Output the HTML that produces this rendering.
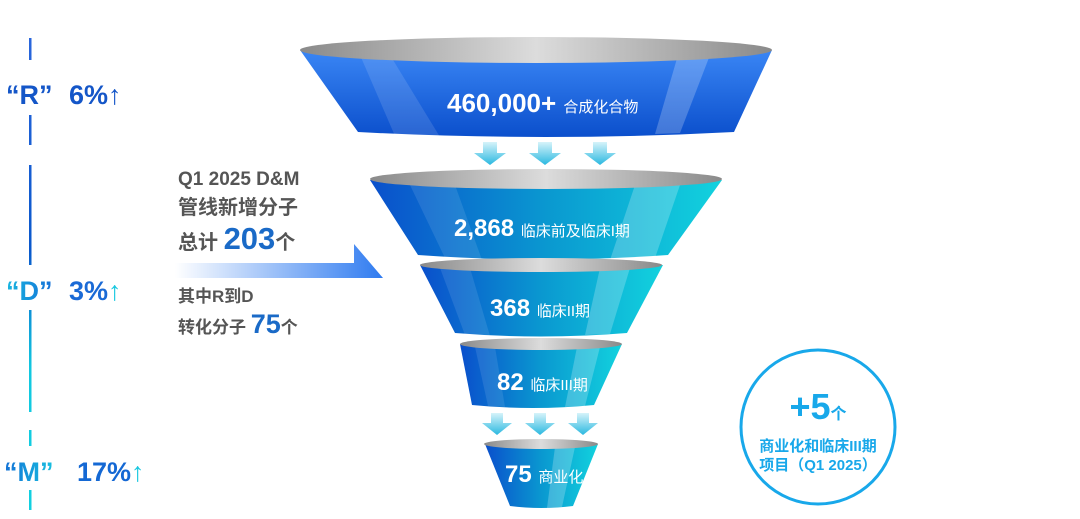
<!DOCTYPE html>
<html><head><meta charset="utf-8"><style>
html,body{margin:0;padding:0;background:#fff;}
svg{display:block}
text{font-family:"Liberation Sans","Noto Sans CJK SC",sans-serif;font-weight:bold}
</style></head><body>
<svg width="1080" height="519" viewBox="0 0 1080 519" xmlns="http://www.w3.org/2000/svg">
<defs>
<linearGradient id="rim" x1="0" x2="1"><stop offset="0" stop-color="#8a8a8a"/><stop offset="0.5" stop-color="#dcdcdc"/><stop offset="1" stop-color="#8a8a8a"/></linearGradient>
<linearGradient id="b1" x1="0" y1="0" x2="0" y2="1"><stop offset="0" stop-color="#3a86f5"/><stop offset="1" stop-color="#0b4fcc"/></linearGradient>
<linearGradient id="b2" x1="0" x2="1"><stop offset="0" stop-color="#0a4fcc"/><stop offset="0.5" stop-color="#0a98d0"/><stop offset="1" stop-color="#12d2de"/></linearGradient>
<linearGradient id="arr" x1="0" y1="0" x2="0" y2="1"><stop offset="0" stop-color="#d6f3fa"/><stop offset="1" stop-color="#2ab8e0"/></linearGradient>
<linearGradient id="bar" x1="0" x2="1"><stop offset="0" stop-color="#ffffff"/><stop offset="1" stop-color="#2f7bf0"/></linearGradient>
<linearGradient id="vl" gradientUnits="userSpaceOnUse" x1="0" y1="38" x2="0" y2="510"><stop offset="0" stop-color="#2a66dc"/><stop offset="0.45" stop-color="#0a58cc"/><stop offset="0.7" stop-color="#12c8e0"/><stop offset="1" stop-color="#12d0e0"/></linearGradient>
<linearGradient id="tD" x1="0" x2="1"><stop offset="0" stop-color="#18b7e0"/><stop offset="1" stop-color="#1570d8"/></linearGradient>
<linearGradient id="tM" x1="0" x2="1"><stop offset="0" stop-color="#1370d6"/><stop offset="1" stop-color="#18c0e0"/></linearGradient>
</defs>

<g fill="url(#vl)">
<rect x="29" y="38" width="2.5" height="22"/>
<rect x="29" y="115" width="2.5" height="30"/>
<rect x="29" y="165" width="2.5" height="100"/>
<rect x="29" y="310" width="2.5" height="102"/>
<rect x="29" y="430" width="2.5" height="16"/>
<rect x="29" y="490" width="2.5" height="20"/>
</g>
<text x="6" y="104" font-size="27" fill="#1456c8">“R”</text>
<text x="69" y="104" font-size="27" fill="#1456c8">6%<tspan font-weight="normal">↑</tspan></text>
<text x="6" y="300" font-size="27" fill="url(#tD)">“D”</text>
<text x="69" y="300" font-size="27" fill="#1a6ad6">3%<tspan fill="#1ac8e0" font-weight="normal">↑</tspan></text>
<text x="4" y="481" font-size="27" fill="url(#tM)">“M”</text>
<text x="77" y="481" font-size="27" fill="#1468d4">17%<tspan fill="#1ac8e0" font-weight="normal">↑</tspan></text>

<text x="178" y="185" font-size="19" fill="#555">Q1 2025 D&amp;M</text>
<text x="178" y="214" font-size="20" fill="#555">管线新增分子</text>
<text x="178" y="249" font-size="20" fill="#555">总计 <tspan font-size="31" fill="#1a6ac7">203</tspan>个</text>
<polygon points="175,263 354,263 354,244 383,278 175,278" fill="url(#bar)"/>
<text x="178" y="302" font-size="17" fill="#555">其中R到D</text>
<text x="178" y="333" font-size="17" fill="#555">转化分子 <tspan font-size="27" fill="#1a6ac7">75</tspan>个</text>

<path d="M300,50 L358,132 Q545,142 734,132 L772,50 Z" fill="url(#b1)"/>
<path d="M360,55 L390,55 L440,137 L395,136 Z" fill="#fff" opacity="0.12"/>
<path d="M678,55 L710,55 L680,133 L655,134 Z" fill="#fff" opacity="0.22"/>
<ellipse cx="536" cy="50" rx="236" ry="13" fill="url(#rim)"/>
<text x="447" y="112" font-size="26" fill="#fff">460,000+ <tspan font-size="15" font-weight="normal">合成化合物</tspan></text>

<g fill="url(#arr)">
<polygon points="483,142 497,142 497,153 506,153 490,165 474,153 483,153"/>
<polygon points="538,142 552,142 552,153 561,153 545,165 529,153 538,153"/>
<polygon points="593,142 607,142 607,153 616,153 600,165 584,153 593,153"/>
</g>

<path d="M370,180 L418,255 Q543,264 668,255 L722,180 Z" fill="url(#b2)"/>
<path d="M410,185 L455,185 L482,260 L445,258 Z" fill="#fff" opacity="0.1"/>
<path d="M635,185 L680,185 L655,258 L610,260 Z" fill="#fff" opacity="0.22"/>
<ellipse cx="546" cy="179" rx="176" ry="10" fill="url(#rim)"/>
<text x="454" y="236" font-size="24" fill="#fff">2,868 <tspan font-size="15" font-weight="normal">临床前及临床I期</tspan></text>

<path d="M420,265 L455,333 Q541,340 627,333 L663,265 Z" fill="url(#b2)"/>
<path d="M440,268 L470,268 L490,336 L465,335 Z" fill="#fff" opacity="0.1"/>
<path d="M600,268 L630,268 L610,334 L585,335 Z" fill="#fff" opacity="0.22"/>
<ellipse cx="541" cy="265" rx="121" ry="7" fill="url(#rim)"/>
<text x="490" y="316" font-size="24" fill="#fff">368 <tspan font-size="15" font-weight="normal">临床II期</tspan></text>

<path d="M460,344 L472,405 Q533,411 594,405 L622,344 Z" fill="url(#b2)"/>
<path d="M475,347 L495,347 L505,407 L488,406 Z" fill="#fff" opacity="0.1"/>
<path d="M577,347 L600,347 L585,406 L565,407 Z" fill="#fff" opacity="0.22"/>
<ellipse cx="541" cy="344" rx="81" ry="6" fill="url(#rim)"/>
<text x="497" y="390" font-size="24" fill="#fff">82 <tspan font-size="15" font-weight="normal">临床III期</tspan></text>

<g fill="url(#arr)">
<polygon points="491,413 503,413 503,423 512,423 497,435 482,423 491,423"/>
<polygon points="534,413 546,413 546,423 555,423 540,435 525,423 534,423"/>
<polygon points="577,413 589,413 589,423 598,423 583,435 568,423 577,423"/>
</g>

<path d="M485,444 L510,506 Q541,510 573,506 L598,444 Z" fill="url(#b2)"/>
<path d="M555,447 L575,447 L562,507 L547,508 Z" fill="#fff" opacity="0.22"/>
<ellipse cx="541" cy="444" rx="57" ry="5" fill="url(#rim)"/>
<text x="505" y="482" font-size="24" fill="#fff">75 <tspan font-size="15" font-weight="normal">商业化</tspan></text>

<circle cx="818" cy="427" r="77" fill="none" stroke="#18a8ea" stroke-width="3"/>
<text x="818" y="419" font-size="36" fill="#18a8ea" text-anchor="middle">+5<tspan font-size="16">个</tspan></text>
<text x="818" y="451" font-size="15" fill="#18a8ea" text-anchor="middle">商业化和临床III期</text>
<text x="818" y="470" font-size="15" fill="#18a8ea" text-anchor="middle">项目（Q1 2025）</text>
</svg>
</body></html>
